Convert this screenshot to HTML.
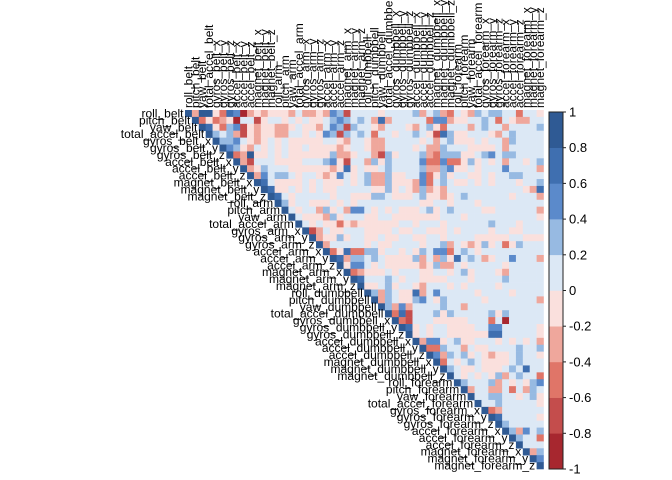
<!DOCTYPE html>
<html><head><meta charset="utf-8"><style>
html,body{margin:0;padding:0;background:#fff;}
svg{display:block;font-family:"Liberation Sans",Arial,sans-serif;}
</style></head><body>
<svg id="chart" width="672" height="480" viewBox="0 0 672 480"></svg>
<script>
const variables = ["roll_belt","pitch_belt","yaw_belt","total_accel_belt","gyros_belt_x","gyros_belt_y","gyros_belt_z","accel_belt_x","accel_belt_y","accel_belt_z","magnet_belt_x","magnet_belt_y","magnet_belt_z","roll_arm","pitch_arm","yaw_arm","total_accel_arm","gyros_arm_x","gyros_arm_y","gyros_arm_z","accel_arm_x","accel_arm_y","accel_arm_z","magnet_arm_x","magnet_arm_y","magnet_arm_z","roll_dumbbell","pitch_dumbbell","yaw_dumbbell","total_accel_dumbbell","gyros_dumbbell_x","gyros_dumbbell_y","gyros_dumbbell_z","accel_dumbbell_x","accel_dumbbell_y","accel_dumbbell_z","magnet_dumbbell_x","magnet_dumbbell_y","magnet_dumbbell_z","roll_forearm","pitch_forearm","yaw_forearm","total_accel_forearm","gyros_forearm_x","gyros_forearm_y","gyros_forearm_z","accel_forearm_x","accel_forearm_y","accel_forearm_z","magnet_forearm_x","magnet_forearm_y","magnet_forearm_z"];
// each row: correlation bins from the diagonal to the last column (0 = -1..-0.8, 9 = 0.8..1)
const corrRows = [
"9399428703434"+"4435334376155"+"55455556356325436566552554 6".replace(/ /g,""),
"9242340551455454544567656 5".replace(/ /g,"")+"38355555277344556525433555",
"984267143443345443576165"+"54355543564255535655355556",
"96563143443355454761 65".replace(/ /g,"")+"65255455654186445554356555",
"9667543454544444554355"+"43355555453564445455365555",
"976435454544544443455"+"43355554533655544445355555",
"92394454544444463345"+"53164555632666445675665555",
"9315554444555674155"+"36465555722722464545355456",
"934655544444434845"+"44565555633674454555755553",
"93756654554347545"+"63364455724645544545566555",
"9854444545444545"+"63364443725654454545554556",
"984454545445555"+"54464543634355555555555438",
"98545555545544"+"46654445644345655555545553",
"9645544454545"+"55555555445545554555555555",
"954553645377"+"54545444564565555445555553",
"95444364555"+"44554444444555455555555554",
"9545442434"+"44444554555455555565554555",
"913544555"+"44445445544454555545544555",
"93446455"+"44544554455455554444455444",
"9355555"+"45445555455635434645246555",
"924822"+"66455454657725654555555555",
"98366"+"56544446353648565345575553",
"9477"+"54544444346335455555455555",
"923"+"44454555445545645554355555",
"98"+"55565455444455545555655555",
"9"+"44564554355545455554555555",
"96365448357555554555545555",
"9365446754655555455555553",
"963735555655355555555555",
"92815556465555564655555",
"9215554444455525055555",
"984545544445577555554",
"94545544444488555554",
"9377456445554545453",
"922655354455556556",
"97365645434456554",
"9254565444456555",
"965445444565855",
"95454546356552",
"9655563545467",
"935533525365",
"95566554564",
"9556555554",
"923555555",
"98555554",
"9655555",
"963756",
"96552",
"9555",
"936",
"97",
"9"];
const scaleTicks = ["1","0.8","0.6","0.4","0.2","0","-0.2","-0.4","-0.6","-0.8","-1"];
const binColors = ["#A7272F","#C44D4C","#E07568","#EFA79C","#FAE0DD","#DCE8F5","#97BAE2","#5B8ACB","#3F6FB0","#2F5A94"];

const svg = document.getElementById('chart');
const NS = 'http://www.w3.org/2000/svg';
const n = variables.length;
const gx = 185, gy = 110, gw = 358.5, gh = 359;
const cw = gw / n, ch = gh / n;
const xPos = j => gx + j * cw;
const yPos = i => gy + i * ch;
function binOf(r){ let b = Math.floor((r + 1) / 0.2); return Math.max(0, Math.min(9, b)); }

const cells = document.createElementNS(NS, 'g');


svg.appendChild(cells);
for (let i = 0; i < n; i++) {
  const row = corrRows[i] || "";
  for (let j = i; j < n; j++) {
    const d = row.charAt(j - i);
    const lvl = d === "" ? 5 : parseInt(d, 10);
    const r = i === j ? 1 : -0.9 + 0.2 * lvl;
    const rect = document.createElementNS(NS, 'rect');
    rect.setAttribute('x', xPos(j).toFixed(2));
    rect.setAttribute('y', yPos(i).toFixed(2));
    rect.setAttribute('width', (cw + 0.3).toFixed(2));
    rect.setAttribute('height', (ch + 0.3).toFixed(2));
    rect.setAttribute('fill', binColors[binOf(r)]);
    
    
    cells.appendChild(rect);
  }
}
// row labels
for (let i = 0; i < n; i++) {
  const t = document.createElementNS(NS, 'text');
  t.setAttribute('x', (xPos(i) - 1.5).toFixed(1));
  t.setAttribute('y', (yPos(i) + ch / 2 + 4).toFixed(1));
  t.setAttribute('text-anchor', 'end');
  t.setAttribute('font-size', '12');
  t.setAttribute('fill', '#000');
  t.textContent = variables[i];
  
  
  svg.appendChild(t);
}
// column labels
for (let j = 0; j < n; j++) {
  const t = document.createElementNS(NS, 'text');
  const x = xPos(j) + cw / 2 + 4, y = gy - 2;
  t.setAttribute('transform', 'translate(' + x.toFixed(1) + ',' + y + ') rotate(-90)');
  t.setAttribute('font-size', '12');
  t.setAttribute('fill', '#000');
  t.textContent = variables[j];
  
  
  svg.appendChild(t);
}
// color legend
const lx = 549, ly = 112, lw = 14, lh = 357;
const legend = document.createElementNS(NS, 'g');


svg.appendChild(legend);
for (let b = 0; b < 10; b++) {
  const r = document.createElementNS(NS, 'rect');
  r.setAttribute('x', lx);
  r.setAttribute('y', (ly + (9 - b) * lh / 10).toFixed(2));
  r.setAttribute('width', lw);
  r.setAttribute('height', (lh / 10 + 0.3).toFixed(2));
  r.setAttribute('fill', binColors[b]);
  
  
  legend.appendChild(r);
}
const border = document.createElementNS(NS, 'rect');
border.setAttribute('x', lx); border.setAttribute('y', ly);
border.setAttribute('width', lw); border.setAttribute('height', lh);
border.setAttribute('fill', 'none'); border.setAttribute('stroke', '#222'); border.setAttribute('stroke-width', '1');


legend.appendChild(border);
for (let k = 0; k < scaleTicks.length; k++) {
  const y = ly + k * lh / 10;
  const tk = document.createElementNS(NS, 'line');
  tk.setAttribute('x1', lx + lw); tk.setAttribute('x2', lx + lw + 3);
  tk.setAttribute('y1', y); tk.setAttribute('y2', y);
  tk.setAttribute('stroke', '#222');
  
  
  legend.appendChild(tk);
  const t = document.createElementNS(NS, 'text');
  t.setAttribute('x', lx + lw + 6);
  t.setAttribute('y', (y + 4.5).toFixed(1));
  t.setAttribute('font-size', '13');
  t.setAttribute('fill', '#000');
  t.textContent = scaleTicks[k];
  
  
  legend.appendChild(t);
}
</script>
</body></html>
